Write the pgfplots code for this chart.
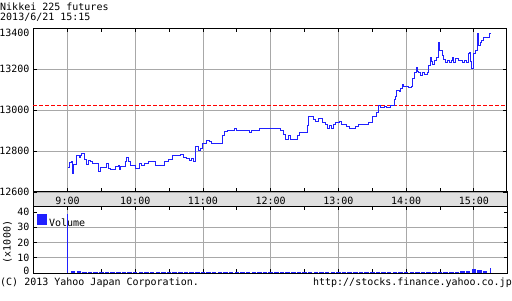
\documentclass[border=0pt]{standalone}
\usepackage{pgfplots}
\pgfplotsset{compat=1.18}
\usepackage{fontspec}
\setmainfont{DejaVu Sans Mono}
\newcommand{\fs}{\fontsize{10bp}{10bp}\selectfont}
\definecolor{lineblue}{RGB}{32,32,255}
\definecolor{gridgray}{RGB}{168,168,168}
\definecolor{bandgray}{RGB}{224,224,224}

\pgfplotstableread{
t v
9.000 12718
9.030 12742
9.059 12750
9.074 12689
9.089 12734
9.128 12779
9.177 12770
9.197 12779
9.212 12789
9.246 12758
9.276 12734
9.305 12753
9.335 12747
9.374 12740
9.463 12702
9.493 12718
9.522 12721
9.581 12737
9.611 12715
9.640 12708
9.709 12724
9.759 12727
9.768 12710
9.788 12726
9.857 12750
9.877 12769
9.906 12750
9.936 12727
10.005 12716
10.064 12740
10.094 12727
10.143 12740
10.202 12750
10.300 12727
10.438 12750
10.498 12760
10.557 12779
10.665 12782
10.714 12770
10.754 12763
10.803 12753
10.833 12763
10.862 12750
10.892 12821
10.931 12802
10.970 12811
11.000 12837
11.049 12853
11.099 12847
11.128 12837
11.286 12876
11.315 12895
11.355 12902
11.443 12898
11.473 12911
11.502 12900
11.690 12890
11.719 12902
11.837 12911
12.143 12902
12.182 12882
12.222 12857
12.261 12876
12.300 12857
12.392 12876
12.426 12890
12.539 12924
12.559 12966
12.637 12953
12.667 12944
12.706 12960
12.765 12940
12.804 12927
12.833 12911
12.873 12924
12.902 12911
12.922 12927
12.951 12937
13.020 12944
13.049 12931
13.127 12919
13.157 12911
13.255 12919
13.294 12927
13.441 12940
13.510 12968
13.569 12989
13.588 13021
13.618 13011
13.676 13016
13.706 13011
13.765 13021
13.824 13049
13.843 13066
13.863 13097
13.902 13089
13.922 13105
13.941 13124
13.961 13113
14.039 13108
14.078 13113
14.098 13153
14.118 13182
14.147 13208
14.167 13189
14.186 13182
14.206 13166
14.235 13182
14.275 13173
14.314 13182
14.333 13218
14.353 13258
14.373 13237
14.392 13221
14.422 13242
14.451 13258
14.480 13328
14.500 13290
14.539 13266
14.559 13247
14.588 13231
14.618 13242
14.647 13231
14.667 13242
14.686 13258
14.706 13231
14.735 13253
14.775 13242
14.833 13231
14.863 13242
14.892 13231
14.922 13274
14.941 13282
14.951 13237
14.971 13202
15.000 13274
15.020 13290
15.049 13371
15.064 13315
15.098 13328
15.118 13339
15.137 13355
15.235 13371
15.245 13371
}\pricedata

\pgfplotstableread{
t v
545 1.2
550 1.0
555 0.9
560 0.85
565 0.85
570 0.8
575 0.8
580 0.72
585 0.72
590 0.72
595 0.8
600 0.72
605 0.72
610 0.65
615 0.65
620 0.72
625 0.65
630 0.65
635 0.65
640 0.72
645 0.8
650 0.72
655 0.72
660 0.8
665 0.72
670 0.72
675 0.65
680 0.65
685 0.65
690 0.65
695 0.65
700 0.65
705 0.65
710 0.65
715 0.65
720 0.65
725 0.65
730 0.65
735 0.65
740 0.65
745 0.65
750 0.65
755 0.72
760 0.65
765 0.65
770 0.65
775 0.65
780 0.65
785 0.65
790 0.72
795 0.72
800 0.72
805 0.8
810 0.8
815 0.8
820 0.8
825 0.8
830 0.8
835 0.85
840 0.8
845 0.8
850 0.85
855 0.85
860 0.8
865 0.85
870 0.85
875 0.9
880 0.9
885 0.9
890 1.0
895 1.2
900 2.4
905 2.0
910 1.0
}\voldata

\begin{document}
\begin{tikzpicture}[font=\fs]
\path[use as bounding box] (0,0) rectangle (512bp,301bp);
\fill[bandgray] (33bp,94bp) rectangle (507bp,109bp);
\draw[black, line width=1bp] (33bp,94bp) rectangle (507bp,109bp);

\node[anchor=base west, inner sep=0pt] at (0bp,290bp) {Nikkei 225 futures};
\node[anchor=base west, inner sep=0pt] at (0bp,280bp) {2013/6/21 15:15};
\node[anchor=base west, inner sep=0pt] at (0bp,16bp) {(C) 2013 Yahoo Japan Corporation.};
\node[anchor=base east, inner sep=0pt] at (512bp,16bp) {http://stocks.finance.yahoo.co.jp};
\node[rotate=90, inner sep=0pt] at (7.5bp,59bp) {(x1000)};

\begin{axis}[
  at={(33bp,109bp)}, anchor=south west, scale only axis,
  width=474bp, height=164bp,
  xmin=8.49, xmax=15.49, ymin=12600, ymax=13400,
  scaled y ticks=false, scaled x ticks=false,
  xtick={9,...,15}, xticklabels={9:00,10:00,11:00,12:00,13:00,14:00,15:00},
  minor xtick={8.5,9.5,10.5,11.5,12.5,13.5,14.5},
  ytick={12600,12800,13000,13200,13400},
  yticklabels={12600,12800,13000,13200,\raisebox{-8bp}[0pt][0pt]{13400}},
  xmajorgrids=true, ymajorgrids=true,
  major grid style={gridgray, line width=0.8bp},
  tick align=inside, xtick pos=both, ytick pos=both,
  major tick length=3.5bp, minor tick length=3.5bp,
  major tick style={black, line width=0.8bp},
  minor tick style={black, line width=0.8bp},
  axis line style={line width=1bp},
  xticklabel style={anchor=base, yshift=-13bp, font=\fs},
  yticklabel style={font=\fs},
]
\addplot[red, dash pattern=on 3.5bp off 2.5bp, line width=1.1bp] coordinates {(8.49,13022) (15.49,13022)};
\addplot[const plot, lineblue, line width=1bp] table[x=t, y=v] {\pricedata};
\end{axis}

\begin{axis}[
  at={(33bp,28bp)}, anchor=south west, scale only axis,
  width=474bp, height=66bp,
  xmin=509.4, xmax=929.4, ymin=0, ymax=43.3,
  scaled y ticks=false, scaled x ticks=false,
  xtick={540,600,660,720,780,840,900}, xticklabels={},
  minor xtick={570,630,690,750,810,870},
  ytick={0,40}, yticklabels={\raisebox{-1bp}[0pt][0pt]{0},40},
  extra y ticks={10,20,30}, extra y tick labels={10,20,30},
  extra y tick style={ymajorgrids=true},
  xmajorgrids=true,
  major grid style={gridgray, line width=0.8bp},
  tick align=inside, xtick pos=both, ytick pos=both,
  major tick length=3.5bp, minor tick length=3.5bp,
  major tick style={black, line width=0.8bp},
  minor tick style={black, line width=0.8bp},
  axis line style={line width=1bp},
  yticklabel style={font=\fs},
  legend style={at={(0.006,0.9)}, anchor=north west, draw=none, fill=none,
    font=\fs, inner sep=0.5bp},
  legend image code/.code={\fill[lineblue] (0bp,0.5bp) rectangle (6bp,6.5bp);},
]
\addplot[ycomb, lineblue, line width=4.5bp] table[x=t, y=v] {\voldata};
\addlegendentry{Volume}
\addplot[ycomb, lineblue, line width=1bp, forget plot] coordinates {(540,39) (915,3.5)};
\end{axis}
\end{tikzpicture}
\end{document}
